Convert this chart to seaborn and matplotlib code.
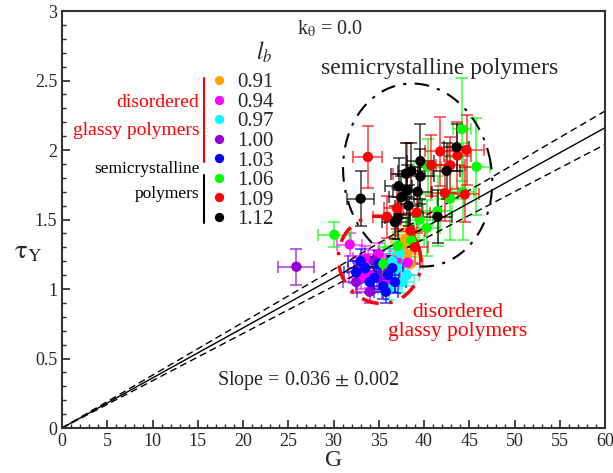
import numpy as np
import pandas as pd
import seaborn as sns
import matplotlib.pyplot as plt
from matplotlib.ticker import MultipleLocator

sns.set_style("ticks")
plt.rcParams['font.family'] = ['Liberation Serif', 'DejaVu Serif']
plt.rcParams['mathtext.fontset'] = 'stix'

# bond lengths l_b and their colours
lb_labels = ["0.91", "0.94", "0.97", "1.00", "1.03", "1.06", "1.09", "1.12"]
colors = ["#ffa500", "#ff00ff", "#00ffff", "#9400d3",
          "#0000ff", "#00ff00", "#ff0000", "#000000"]

# shear modulus G, yield stress tau_Y and their errors, one set per l_b
G_091 = [37.6, 38.1, 36.7, 37.9, 38.5]
tau_091 = [1.31, 1.25, 1.21, 1.36, 1.18]
Gerr_091 = [1.3, 1.4, 1.2, 1.3, 1.4]
terr_091 = [0.08, 0.09, 0.08, 0.09, 0.08]

G_094 = [31.8, 33.5, 35.0, 36.5, 37.0, 34.0, 36.0, 38.2, 33.0]
tau_094 = [1.32, 1.22, 1.25, 1.15, 1.21, 1.10, 1.05, 1.19, 1.08]
Gerr_094 = [1.4, 1.3, 1.2, 1.3, 1.4, 1.3, 1.2, 1.4, 1.3]
terr_094 = [0.08, 0.09, 0.08, 0.09, 0.08, 0.09, 0.08, 0.09, 0.08]

G_097 = [37.0, 37.6, 36.5, 38.1, 37.3, 36.1]
tau_097 = [1.15, 1.05, 1.20, 1.10, 1.26, 1.00]
Gerr_097 = [1.2, 1.3, 1.2, 1.4, 1.3, 1.2]
terr_097 = [0.08, 0.08, 0.09, 0.08, 0.09, 0.08]

G_100 = [25.9, 33.0, 34.5, 35.0, 32.5, 36.0, 34.0]
tau_100 = [1.16, 1.15, 1.20, 1.08, 1.05, 1.12, 0.98]
Gerr_100 = [2.0, 1.4, 1.3, 1.2, 1.5, 1.3, 1.4]
terr_100 = [0.13, 0.09, 0.08, 0.09, 0.08, 0.09, 0.08]

G_103 = [32.5, 33.5, 34.5, 35.5, 36.0, 35.0, 34.0, 36.5, 35.8, 33.0, 36.8]
tau_103 = [1.12, 1.15, 1.08, 1.02, 1.10, 1.18, 1.05, 1.15, 0.98, 1.20, 1.05]
Gerr_103 = [1.3, 1.2, 1.4, 1.3, 1.2, 1.3, 1.4, 1.2, 1.3, 1.4, 1.2]
terr_103 = [0.08, 0.09, 0.08, 0.09, 0.08, 0.09, 0.08, 0.09, 0.08, 0.09, 0.08]

G_106 = [30.1, 35.5, 37.1, 40.3, 41.5, 42.9, 44.3, 45.8, 44.2, 40.4, 38.6, 39.5]
tau_106 = [1.39, 1.18, 1.31, 1.44, 1.56, 1.65, 1.70, 1.88, 2.15, 1.88, 1.35, 1.50]
Gerr_106 = [1.8, 1.5, 1.4, 1.5, 1.6, 1.5, 1.2, 1.5, 1.0, 1.5, 1.4, 1.5]
terr_106 = [0.09, 0.12, 0.10, 0.20, 0.25, 0.30, 0.35, 0.35, 0.37, 0.20, 0.12, 0.15]

G_109 = [33.8, 35.9, 38.5, 38.1, 40.8, 41.8, 42.9, 43.7, 44.7, 42.3, 44.5, 39.2, 37.0, 39.0]
tau_109 = [1.95, 1.52, 1.42, 1.83, 1.89, 1.99, 1.89, 1.96, 2.00, 1.69, 1.68, 1.55, 1.58, 1.30]
Gerr_109 = [1.6, 1.5, 1.6, 1.5, 1.5, 1.7, 1.6, 1.5, 1.9, 1.5, 1.6, 1.5, 1.4, 1.4]
terr_109 = [0.22, 0.15, 0.12, 0.22, 0.22, 0.25, 0.20, 0.24, 0.25, 0.20, 0.20, 0.15, 0.15, 0.12]

G_112 = [33.0, 37.1, 37.2, 37.5, 38.0, 38.1, 38.6, 39.3, 39.6, 39.6, 41.5, 42.5, 43.6, 38.3, 36.8]
tau_112 = [1.65, 1.51, 1.74, 1.66, 1.83, 1.71, 1.85, 1.70, 1.92, 1.81, 1.52, 1.85, 2.02, 1.60, 1.48]
Gerr_112 = [1.5, 1.4, 1.5, 1.4, 1.6, 1.5, 1.5, 1.6, 1.5, 1.5, 1.6, 1.5, 1.4, 1.5, 1.4]
terr_112 = [0.20, 0.15, 0.20, 0.15, 0.22, 0.18, 0.20, 0.18, 0.27, 0.20, 0.19, 0.20, 0.17, 0.15, 0.12]

G_all = [G_091, G_094, G_097, G_100, G_103, G_106, G_109, G_112]
tau_all = [tau_091, tau_094, tau_097, tau_100, tau_103, tau_106, tau_109, tau_112]
Gerr_all = [Gerr_091, Gerr_094, Gerr_097, Gerr_100, Gerr_103, Gerr_106, Gerr_109, Gerr_112]
terr_all = [terr_091, terr_094, terr_097, terr_100, terr_103, terr_106, terr_109, terr_112]

# fit: tau_Y = slope * G
slope = 0.036
slope_err = 0.002

rows = []
for lab, g, t in zip(lb_labels, G_all, tau_all):
    for gi, ti in zip(g, t):
        rows.append({"G": gi, "tau": ti, "lb": lab})
df = pd.DataFrame(rows)

fig = plt.figure(figsize=(6.13, 4.73), dpi=100)
ax = fig.add_axes([62 / 613, 45 / 473, 543 / 613, 417 / 473])

# error bars first
for c, g, t, ge, te in zip(colors, G_all, tau_all, Gerr_all, terr_all):
    ax.errorbar(g, t, xerr=ge, yerr=te, fmt="none", ecolor=c, alpha=0.65,
                elinewidth=1.3, capsize=4, capthick=1.3, zorder=2)

sns.scatterplot(data=df, x="G", y="tau", hue="lb", palette=colors,
                hue_order=lb_labels, s=55, edgecolor="none", ax=ax, zorder=3)

# fit lines
gx = np.array([0, 60])
ax.plot(gx, slope * gx, color="black", lw=1)
ax.plot(gx, (slope + slope_err) * gx, color="black", lw=1, ls=(0, (5, 3)))
ax.plot(gx, (slope - slope_err) * gx, color="black", lw=1, ls=(0, (5, 3)))

# ellipses round the two groups (drawn in pixel proportions)
def ring(cx, cy, a, b, phi, **kw):
    t = np.linspace(0, 2 * np.pi, 300)
    p = np.radians(phi)
    u = a * np.cos(t) * np.cos(p) - b * np.sin(t) * np.sin(p)
    v = a * np.cos(t) * np.sin(p) + b * np.sin(t) * np.cos(p)
    ax.plot(cx + u / 9.05, cy + v / 139.0, **kw)

ring(39.3, 1.82, 74, 92, 10, color="black", lw=1.5, ls=(0, (7, 4, 1.5, 4)))
ring(35.1, 1.21, 41, 44, 20, color="red", lw=2.5, ls=(0, (5, 3, 1, 3)))

ax.set_xlim(0, 60)
ax.set_ylim(0, 3)
ax.xaxis.set_major_locator(MultipleLocator(5))
ax.xaxis.set_minor_locator(MultipleLocator(1))
ax.yaxis.set_major_locator(MultipleLocator(0.5))
ax.yaxis.set_minor_locator(MultipleLocator(0.1))
ax.yaxis.set_major_formatter(plt.FuncFormatter(lambda v, p: f"{v:g}"))
ax.tick_params(which="major", direction="in", length=6, width=1.2,
               labelsize=13, labelfontfamily="Liberation Serif")
ax.tick_params(which="minor", direction="in", length=3, width=1)
for s in ax.spines.values():
    s.set_linewidth(1.5)
    s.set_color("#333333")

ax.set_xlabel("G", fontsize=17, labelpad=0)
ax.set_ylabel(r"$\mathrm{\tau}_{\mathrm{Y}}$", fontsize=19, rotation=0, va="center")
ax.yaxis.set_label_coords(-0.062, 0.42)

# legend for l_b
ax.legend(loc="upper left", bbox_to_anchor=(0.253, 0.877), frameon=False,
          fontsize=15, labelspacing=0.0, handletextpad=0.4, handlelength=0.9,
          borderpad=0, markerscale=0.9)
ax.text(0.372, 0.90, r"$l_b$", transform=ax.transAxes, fontsize=17,
        ha="center", va="center")
ax.text(0.494, 0.957, r"k$_{\mathrm{\theta}}$ = 0.0", transform=ax.transAxes,
        fontsize=14.5, ha="center", va="center")

# group brackets beside the legend
ax.plot([0.261, 0.261], [0.638, 0.839], color="red", lw=1.5, transform=ax.transAxes)
ax.plot([0.261, 0.261], [0.492, 0.607], color="black", lw=1.5, transform=ax.transAxes)
ax.text(0.253, 0.746, "disordered\nglassy polymers", transform=ax.transAxes,
        color="red", fontsize=14, ha="right", va="center", linespacing=1.85)
ax.text(0.253, 0.591, "semicrystalline\npolymers", transform=ax.transAxes,
        color="black", fontsize=12.5, ha="right", va="center", linespacing=1.7)

ax.text(0.696, 0.863, "semicrystalline polymers", transform=ax.transAxes,
        fontsize=17, ha="center", va="center")
ax.text(0.729, 0.254, "disordered\nglassy polymers", transform=ax.transAxes,
        color="red", fontsize=15.5, ha="center", va="center", linespacing=1.05)
ax.text(0.453, 0.115, r"Slope = 0.036 $\pm$ 0.002", transform=ax.transAxes,
        fontsize=14.5, ha="center", va="center")

fig.savefig("out.png", dpi=100)
